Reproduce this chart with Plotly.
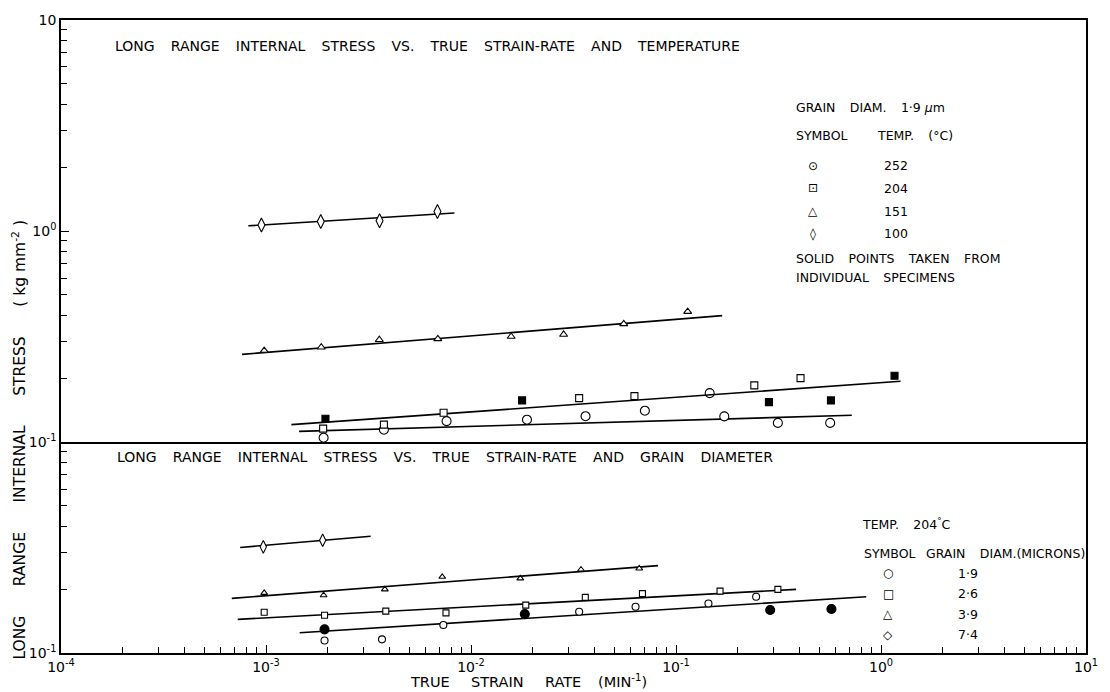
import plotly.graph_objects as go

# ---------------- data ----------------
# Upper panel: grain diameter 1.9 um, strain rate (min^-1) vs long range internal stress (kg mm^-2)
rate_100 = [9.5e-4, 1.85e-3, 3.58e-3, 6.86e-3]
stress_100 = [1.07, 1.11, 1.12, 1.24]
fit_rate_100 = [8.2e-4, 8.3e-3]
fit_stress_100 = [1.06, 1.22]

rate_151 = [9.8e-4, 1.86e-3, 3.57e-3, 6.89e-3, 1.57e-2, 2.83e-2, 5.56e-2, 0.114]
stress_151 = [0.272, 0.282, 0.306, 0.309, 0.317, 0.324, 0.364, 0.416]
fit_rate_151 = [7.64e-4, 0.168]
fit_stress_151 = [0.261, 0.398]

rate_204 = [1.90e-3, 3.76e-3, 7.35e-3, 3.37e-2, 6.27e-2, 0.241, 0.405]
stress_204 = [0.1161, 0.1213, 0.138, 0.162, 0.1655, 0.186, 0.2015]
rate_204_solid = [1.95e-3, 1.775e-2, 0.284, 0.57, 1.164]
stress_204_solid = [0.1294, 0.158, 0.155, 0.158, 0.2066]
fit_rate_204 = [1.33e-3, 1.245]
fit_stress_204 = [0.1213, 0.1945]

rate_252 = [1.91e-3, 3.76e-3, 7.60e-3, 1.875e-2, 3.62e-2, 7.05e-2, 0.146, 0.172, 0.314, 0.565]
stress_252 = [0.1052, 0.1148, 0.126, 0.128, 0.133, 0.1412, 0.171, 0.1327, 0.1236, 0.1236]
fit_rate_252 = [1.45e-3, 0.72]
fit_stress_252 = [0.1127, 0.1343]

# Lower panel: 204 C, different grain diameters (microns)
rate_g74 = [9.7e-4, 1.89e-3]
stress_g74 = [0.319, 0.343]
fit_rate_g74 = [7.48e-4, 3.24e-3]
fit_stress_g74 = [0.317, 0.358]

rate_g39 = [9.8e-4, 1.91e-3, 3.80e-3, 7.24e-3, 1.74e-2, 3.44e-2, 6.62e-2]
stress_g39 = [0.193, 0.188, 0.2004, 0.230, 0.226, 0.249, 0.252]
fit_rate_g39 = [6.81e-4, 8.17e-2]
fit_stress_g39 = [0.1817, 0.260]

rate_g26 = [9.8e-4, 1.93e-3, 3.84e-3, 7.55e-3, 1.85e-2, 3.61e-2, 6.86e-2, 0.164, 0.314]
stress_g26 = [0.156, 0.151, 0.158, 0.155, 0.1688, 0.1836, 0.1914, 0.1967, 0.2004]
fit_rate_g26 = [7.28e-4, 0.385]
fit_stress_g26 = [0.1444, 0.2004]

rate_g19 = [1.93e-3, 3.68e-3, 7.33e-3, 3.37e-2, 6.35e-2, 0.144, 0.246]
stress_g19 = [0.1146, 0.1161, 0.1357, 0.157, 0.1657, 0.1717, 0.185]
rate_g19_solid = [1.93e-3, 1.83e-2, 0.288, 0.573]
stress_g19_solid = [0.1295, 0.153, 0.160, 0.1617]
fit_rate_g19 = [1.46e-3, 0.847]
fit_stress_g19 = [0.1248, 0.185]

temp_labels = ["252", "204", "151", "100"]
temp_glyphs = ["\u2299", "\u22a1", "\u25b3", "\u25ca"]
grain_labels = ["1\u00b79", "2\u00b76", "3\u00b79", "7\u00b74"]
grain_glyphs = ["\u25cb", "\u25a1", "\u25b3", "\u25c7"]

x_major = [1e-4, 1e-3, 1e-2, 1e-1, 1e0, 1e1]
x_major_text = ["10<sup>-4</sup>", "10<sup>-3</sup>", "10<sup>-2</sup>",
                "10<sup>-1</sup>", "10<sup>0</sup>", "10<sup>1</sup>"]
y_major_top = [1e-1, 1e0, 1e1]
y_major_top_text = ["10<sup>-1</sup>", "10<sup>0</sup>", "10"]
y_major_bottom = [1e-1]
y_major_bottom_text = ["10<sup>-1</sup>"]

# ---------------- layout geometry (pixels) ----------------
W, H = 1110, 692
L, R, T, B = 61, 1093, 19, 653      # plot frame
DIV = 442                            # boundary between the two panels
FONT = "DejaVu Sans"
GAP = "\u00a0\u00a0\u00a0\u2009"


def spaced(s, gap=GAP):
    return gap.join(s.split(" "))


def px(x):
    return (x - L) / (R - L)


def py(y):
    return (B - y) / (B - T)


def minor_vals(lo, hi):
    return [k * 10.0 ** e for e in range(lo, hi) for k in range(2, 10)]


fig = go.Figure()

LINE = dict(color="black", width=1.6)


def add_series(xs, ys, fx, fy, symbol, size, yaxis, xaxis, filled=False):
    if fx is not None:
        fig.add_trace(go.Scatter(x=fx, y=fy, mode="lines", line=LINE,
                                 xaxis=xaxis, yaxis=yaxis, showlegend=False,
                                 hoverinfo="skip"))
    fig.add_trace(go.Scatter(
        x=xs, y=ys, mode="markers", xaxis=xaxis, yaxis=yaxis, showlegend=False,
        marker=dict(symbol=symbol, size=size,
                    color="black" if filled else "white",
                    line=dict(color="black", width=1.1))))


# upper panel
add_series(rate_100, stress_100, fit_rate_100, fit_stress_100, "diamond-tall", 10, "y", "x2")
add_series(rate_151, stress_151, fit_rate_151, fit_stress_151, "triangle-up", 7, "y", "x2")
add_series(rate_252, stress_252, fit_rate_252, fit_stress_252, "circle", 9, "y", "x2")
add_series(rate_204, stress_204, fit_rate_204, fit_stress_204, "square", 7, "y", "x2")
add_series(rate_204_solid, stress_204_solid, None, None, "square", 7, "y", "x2", filled=True)

# lower panel
add_series(rate_g74, stress_g74, fit_rate_g74, fit_stress_g74, "diamond-tall", 9, "y2", "x")
add_series(rate_g39, stress_g39, fit_rate_g39, fit_stress_g39, "triangle-up", 6, "y2", "x")
add_series(rate_g26, stress_g26, fit_rate_g26, fit_stress_g26, "square", 6, "y2", "x")
add_series(rate_g19, stress_g19, fit_rate_g19, fit_stress_g19, "circle", 7, "y2", "x")
add_series(rate_g19_solid, stress_g19_solid, None, None, "circle", 9, "y2", "x", filled=True)

split = py(DIV)
axis_common = dict(showgrid=False, zeroline=False, linecolor="black", linewidth=1.6,
                   ticks="inside", ticklen=8, tickwidth=1, tickcolor="black",
                   tickfont=dict(family=FONT, size=14, color="black"))
minor_common = dict(ticks="inside", ticklen=6, tickwidth=1, tickcolor="black",
                    showgrid=False)

fig.update_layout(
    width=W, height=H,
    margin=dict(l=L, r=W - R, t=T, b=H - B),
    paper_bgcolor="white", plot_bgcolor="white",
    showlegend=False,
    xaxis=dict(type="log", range=[-4, 1], domain=[0, 1], anchor="y2",
               tickmode="array", tickvals=x_major, ticktext=x_major_text,
               minor=dict(tickvals=minor_vals(-4, 1), **minor_common),
               showline=True, mirror=False, **axis_common),
    xaxis2=dict(type="log", range=[-4, 1], domain=[0, 1], anchor="y",
                matches="x", showline=True, mirror=True, ticks="",
                showticklabels=False, showgrid=False, zeroline=False,
                linecolor="black", linewidth=1.6),
    yaxis=dict(type="log", range=[-1, 1], domain=[split, 1], anchor="x2",
               tickmode="array", tickvals=y_major_top, ticktext=y_major_top_text,
               minor=dict(tickvals=minor_vals(-1, 1), **minor_common),
               showline=True, mirror=True, **axis_common),
    yaxis2=dict(type="log", range=[-1, 0], domain=[0, split], anchor="x",
                tickmode="array", tickvals=y_major_bottom, ticktext=y_major_bottom_text,
                minor=dict(tickvals=minor_vals(-1, 0), **minor_common),
                showline=True, mirror=True, **axis_common),
)

ann = []


def text(x, y, s, size=13, anchor="left", angle=0):
    ann.append(dict(x=px(x), y=py(y), xref="paper", yref="paper", text=s,
                    showarrow=False, xanchor=anchor, yanchor="middle",
                    textangle=angle,
                    font=dict(family=FONT, size=size, color="black")))


# panel titles
text(113, 45, spaced("LONG RANGE INTERNAL STRESS VS. TRUE STRAIN-RATE AND TEMPERATURE"), 14)
text(115, 457, spaced("LONG RANGE INTERNAL STRESS VS. TRUE STRAIN-RATE AND GRAIN DIAMETER"), 14)

# axis titles
text(532, 681, spaced("TRUE STRAIN RATE", GAP + "\u00a0") + GAP + "(MIN<sup>-1</sup>)",
     14.5, anchor="center")
YGAP = "\u00a0" * 6
text(19, 439, spaced("LONG RANGE INTERNAL STRESS", YGAP) + YGAP + "(\u00a0kg\u00a0mm<sup>-2</sup>\u00a0)",
     15.5, anchor="center", angle=-90)

# key for the upper panel
text(799, 107, "GRAIN" + GAP + "DIAM." + GAP + "1\u00b79 <i>\u03bc</i>m", 12.5)
text(799, 135, "SYMBOL", 12.5)
text(881, 135, "TEMP." + GAP + "(\u00b0C)", 12.5)
for i, (g, lab) in enumerate(zip(temp_glyphs, temp_labels)):
    yy = 165 + i * 22.7
    text(818, yy, g, 12, anchor="center")
    text(888, yy, lab, 12.5)
text(799, 258, spaced("SOLID POINTS TAKEN FROM"), 12.5)
text(799, 277, spaced("INDIVIDUAL SPECIMENS"), 12.5)

# key for the lower panel
text(865, 524, "TEMP." + GAP + "204<sup>\u00b0</sup>C", 12.5)
text(867, 553, "SYMBOL", 12.5)
text(930, 553, "GRAIN" + GAP + "DIAM.(MICRONS)", 12.5)
for i, (g, lab) in enumerate(zip(grain_glyphs, grain_labels)):
    yy = 573 + i * 20.5
    text(894, yy, g, 12, anchor="center")
    text(962, yy, lab, 12.5)

fig.update_layout(annotations=ann)

fig.write_html("out.html")
